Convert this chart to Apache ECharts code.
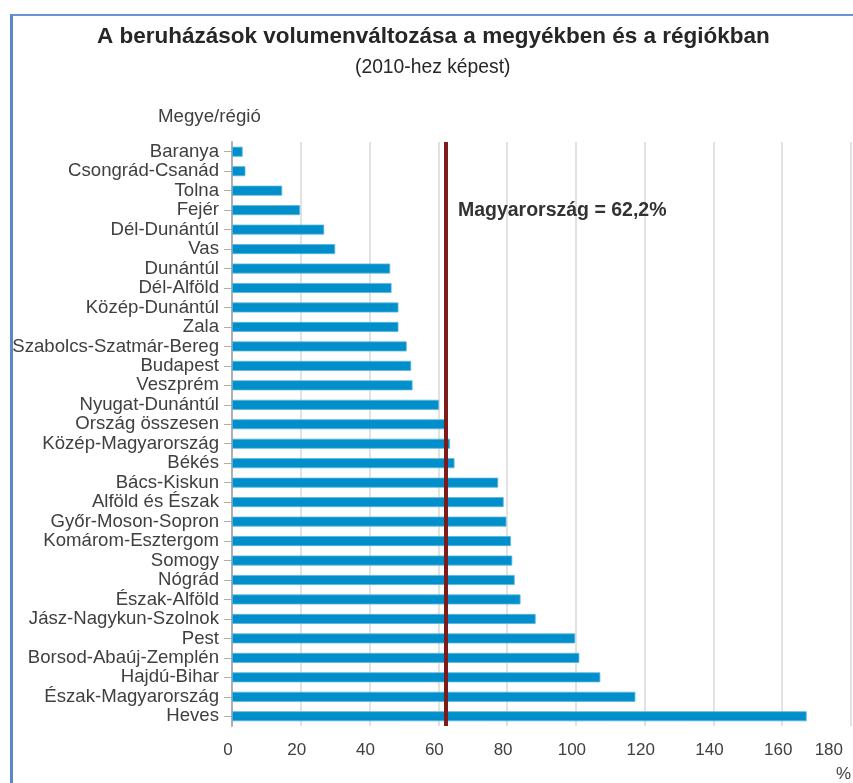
<!DOCTYPE html>
<html>
<head>
<meta charset="utf-8">
<script src="https://cdn.jsdelivr.net/npm/echarts@6/dist/echarts.min.js"></script>
<style>
  html, body { margin: 0; padding: 0; background: #fff; }
  #frame {
    position: absolute; left: 10px; top: 14px; width: 841px; height: 800px;
    border-top: 2px solid #6a95cf; border-left: 3px solid #5b88c6; border-right: 1px solid #a9bfe0;
  }
  #chart { position: absolute; left: 0; top: 0; width: 853px; height: 783px; }
</style>
</head>
<body>
<div id="frame"></div>
<div id="chart"></div>
<script>
const categories = [
  'Baranya', 'Csongrád-Csanád', 'Tolna', 'Fejér', 'Dél-Dunántúl', 'Vas', 'Dunántúl',
  'Dél-Alföld', 'Közép-Dunántúl', 'Zala', 'Szabolcs-Szatmár-Bereg', 'Budapest', 'Veszprém',
  'Nyugat-Dunántúl', 'Ország összesen', 'Közép-Magyarország', 'Békés', 'Bács-Kiskun',
  'Alföld és Észak', 'Győr-Moson-Sopron', 'Komárom-Esztergom', 'Somogy', 'Nógrád',
  'Észak-Alföld', 'Jász-Nagykun-Szolnok', 'Pest', 'Borsod-Abaúj-Zemplén', 'Hajdú-Bihar',
  'Észak-Magyarország', 'Heves'
];
const values = [
  3.1, 3.9, 14.6, 19.8, 26.8, 30.0, 46.0,
  46.4, 48.4, 48.4, 50.8, 52.1, 52.5,
  60.2, 62.2, 63.4, 64.7, 77.4,
  79.0, 79.8, 81.1, 81.5, 82.2,
  83.9, 88.3, 99.8, 101.0, 107.1,
  117.3, 167.1
];
const xTicks = [0, 180, 20]; // min, max, interval
const nationalValue = 62.2;
const nationalLabel = 'Magyarország = 62,2%';

const font = '"Liberation Sans", Arial, sans-serif';
const chart = echarts.init(document.getElementById('chart'));

const option = {
  animation: false,
  title: [
    {
      text: 'A beruházások volumenváltozása a megyékben és a régiókban',
      left: 97, top: 25, padding: 0,
      textStyle: { fontFamily: font, fontSize: 22.5, fontWeight: 'bold', color: '#262626' }
    },
    {
      text: '(2010-hez képest)',
      left: 355, top: 58, padding: 0,
      textStyle: { fontFamily: font, fontSize: 19.3, fontWeight: 'normal', color: '#262626' }
    },
    {
      text: 'Megye/régió',
      left: 158, top: 107, padding: 0,
      textStyle: { fontFamily: font, fontSize: 18.7, fontWeight: 'normal', color: '#404040' }
    }
  ],
  grid: { left: 232, right: 2, top: 142, bottom: 57, containLabel: false },
  xAxis: {
    type: 'value',
    min: xTicks[0], max: xTicks[1], interval: xTicks[2],
    axisLine: { show: false },
    axisTick: { show: false },
    splitLine: { lineStyle: { color: '#d9d9d9', width: 1.5 } },
    axisLabel: {
      fontFamily: font, fontSize: 17, color: '#404040', margin: 16,
      alignMaxLabel: 'right', padding: [0, 8, 0, 0]
    }
  },
  yAxis: {
    type: 'category',
    data: categories,
    inverse: true,
    axisLine: { show: true, lineStyle: { color: '#b0b0b0', width: 2 } },
    axisTick: { show: true, length: 8, alignWithLabel: true, lineStyle: { color: '#b0b0b0' } },
    splitLine: { show: false },
    axisLabel: { interval: 0, fontFamily: font, fontSize: 18.6, color: '#404040', margin: 13 }
  },
  series: [
    {
      type: 'bar',
      data: values,
      barWidth: 10,
      itemStyle: { color: '#008fcb', borderColor: '#5cb5de', borderWidth: 0.8 },
      markLine: {
        silent: true,
        symbol: 'none',
        lineStyle: { color: '#7c1c1c', width: 4, type: 'solid' },
        label: { show: false },
        data: [{ xAxis: nationalValue }]
      }
    }
  ]
};

chart.setOption(option);

const p = chart.convertToPixel({ xAxisIndex: 0, yAxisIndex: 0 }, [nationalValue, 'Fejér']);
chart.setOption({
  graphic: [
    {
      type: 'text', left: 836, top: 766,
      style: { text: '%', font: '17px ' + font, fill: '#404040' }
    },
    {
      type: 'text', x: p[0] + 12, y: p[1],
      style: {
        text: nationalLabel, font: 'bold 19.5px ' + font, fill: '#333',
        verticalAlign: 'middle', align: 'left'
      }
    }
  ]
});
</script>
</body>
</html>
